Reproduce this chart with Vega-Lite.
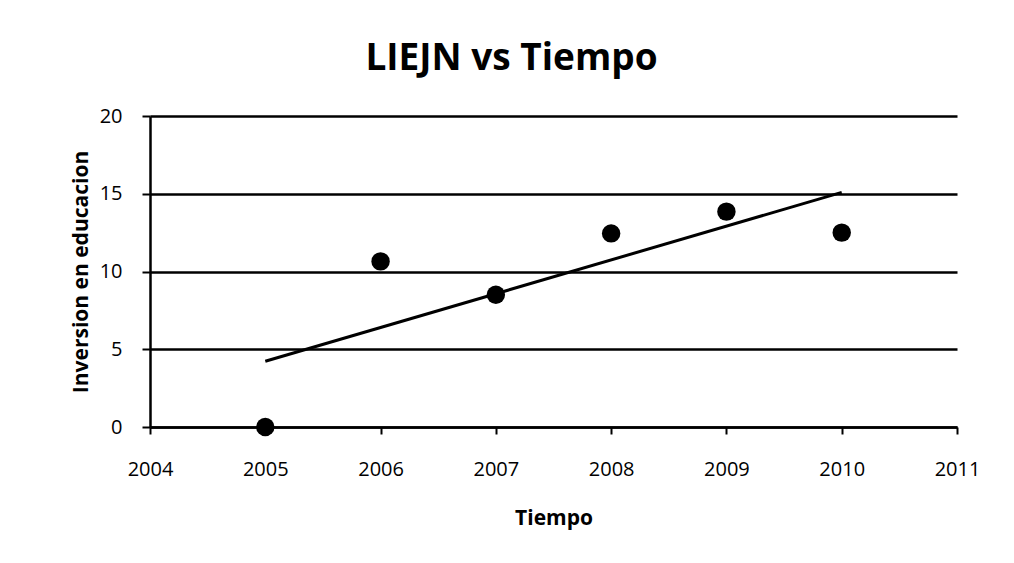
{
  "$schema": "https://vega.github.io/schema/vega-lite/v6.json",
  "autosize": {"type": "none"},
  "width": 807,
  "height": 311,
  "padding": {"left": 150, "top": 116, "right": 57, "bottom": 136},
  "background": "white",
  "title": {
    "text": "LIEJN vs Tiempo",
    "font": "Open Sans",
    "fontSize": 37,
    "fontWeight": "bold",
    "color": "black",
    "anchor": "middle",
    "dx": -42,
    "offset": 28
  },
  "data": {
    "values": [
      {"Tiempo": 2005, "Inversion": 0},
      {"Tiempo": 2006, "Inversion": 10.65},
      {"Tiempo": 2007, "Inversion": 8.5},
      {"Tiempo": 2008, "Inversion": 12.45},
      {"Tiempo": 2009, "Inversion": 13.85},
      {"Tiempo": 2010, "Inversion": 12.5}
    ]
  },
  "encoding": {
    "x": {
      "field": "Tiempo",
      "type": "quantitative",
      "scale": {"domain": [2004, 2011], "nice": false, "zero": false},
      "axis": {
        "title": "Tiempo",
        "values": [2004, 2005, 2006, 2007, 2008, 2009, 2010, 2011],
        "format": "d",
        "grid": false,
        "domainColor": "black",
        "domainWidth": 2.5,
        "tickColor": "black",
        "tickWidth": 2,
        "tickSize": 7,
        "labelPadding": 25,
        "labelFont": "Open Sans",
        "labelFontSize": 20,
        "labelColor": "black",
        "labelFlush": false,
        "titleFont": "Open Sans",
        "titleFontSize": 21,
        "titleFontWeight": "bold",
        "titleColor": "black",
        "titlePadding": 28
      }
    },
    "y": {
      "field": "Inversion",
      "type": "quantitative",
      "scale": {"domain": [0, 20], "nice": false},
      "axis": {
        "title": "Inversion en educacion",
        "values": [0, 5, 10, 15, 20],
        "grid": true,
        "gridColor": "black",
        "gridWidth": 2.5,
        "gridOpacity": 1,
        "domainColor": "black",
        "domainWidth": 2.5,
        "tickColor": "black",
        "tickWidth": 2,
        "tickSize": 8,
        "labelPadding": 20,
        "labelFont": "Open Sans",
        "labelFontSize": 20,
        "labelColor": "black",
        "titleFont": "Open Sans",
        "titleFontSize": 21,
        "titleFontWeight": "bold",
        "titleColor": "black",
        "titlePadding": 8
      }
    }
  },
  "layer": [
    {
      "mark": {"type": "point", "filled": true, "color": "black", "size": 340, "opacity": 1}
    },
    {
      "transform": [{"regression": "Inversion", "on": "Tiempo"}],
      "mark": {"type": "line", "color": "black", "strokeWidth": 3}
    }
  ],
  "config": {
    "view": {"stroke": null}
  }
}
